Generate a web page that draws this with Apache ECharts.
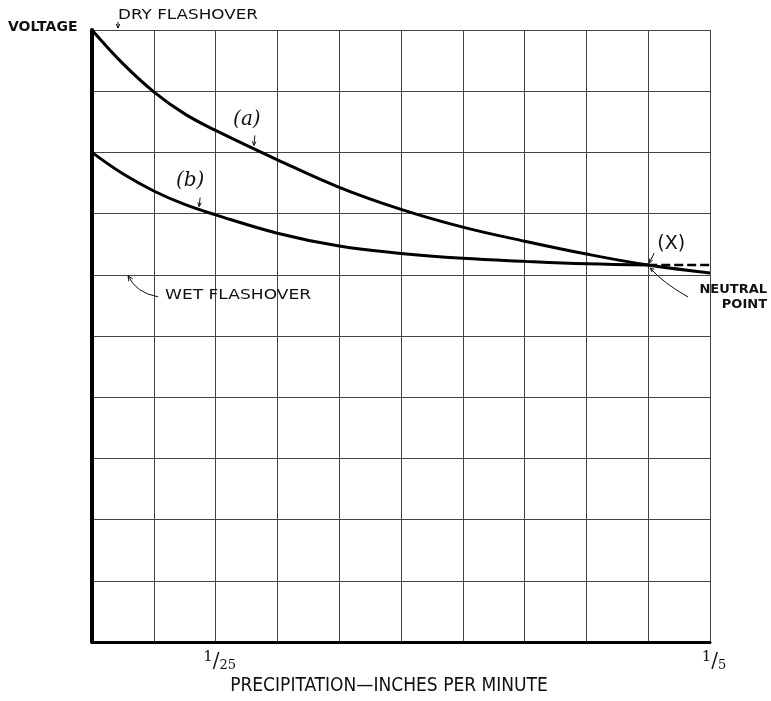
<!DOCTYPE html>
<html>
<head>
<meta charset="utf-8">
<script src="https://cdn.jsdelivr.net/npm/echarts@6/dist/echarts.min.js"></script>
<style>
html,body{margin:0;padding:0;background:#fff;overflow:hidden;}
#c{width:771px;height:701px;}
</style>
</head>
<body>
<div id="c"></div>
<script>
// Precipitation (inches per minute)
const precipA = [0, 0.01, 0.02, 0.03, 0.04, 0.06, 0.08, 0.10, 0.12, 0.14, 0.16, 0.18, 0.20];
const voltageA = [10, 9.45, 8.99, 8.63, 8.36, 7.88, 7.43, 7.07, 6.78, 6.55, 6.34, 6.16, 6.03];
const precipB = [0, 0.01, 0.02, 0.03, 0.04, 0.06, 0.08, 0.10, 0.12, 0.14, 0.16, 0.18];
const voltageB = [8.0, 7.65, 7.37, 7.15, 6.98, 6.68, 6.47, 6.35, 6.27, 6.22, 6.18, 6.16];
const precipBDash = [0.18, 0.20];
const voltageBDash = [6.16, 6.16];
const tickLabels = {0.04: ['1', '25'], 0.2: ['1', '5']};
const neutralPoint = [0.18, 6.16];
const wetFlashover = 6.0;

const zip = (xs, ys) => xs.map((x, i) => [x, ys[i]]);

const chart = echarts.init(document.getElementById('c'), null, {renderer: 'canvas', width: 771, height: 701});
const sans = "'DejaVu Sans', sans-serif";
const serif = "'DejaVu Serif', 'Liberation Serif', serif";

chart.setOption({
  animation: false,
  backgroundColor: '#fff',
  grid: {left: 92, width: 618, top: 30, height: 617, containLabel: false},
  xAxis: {
    type: 'value', min: 0, max: 0.2, interval: 0.02,
    axisLine: {show: true, lineStyle: {color: '#000', width: 3}},
    axisTick: {show: false},
    splitLine: {show: true, lineStyle: {color: '#444', width: 1}},
    axisLabel: {
      margin: 8,
      padding: [0, 0, 0, 8],
      formatter: function (v) {
        for (const k in tickLabels) {
          if (Math.abs(v - Number(k)) < 1e-9) {
            return '{n|' + tickLabels[k][0] + '}{s|/}{d|' + tickLabels[k][1] + '}';
          }
        }
        return '';
      },
      rich: {
        n: {fontFamily: serif, fontSize: 15, color: '#111', padding: [0, 0, 8, 0]},
        s: {fontFamily: serif, fontSize: 20, color: '#111'},
        d: {fontFamily: serif, fontSize: 13, color: '#111', padding: [8, 0, 0, 0]}
      }
    },
    name: 'PRECIPITATION—INCHES PER MINUTE',
    nameLocation: 'middle',
    nameGap: 29,
    nameTextStyle: {fontFamily: "'Liberation Sans Narrow', 'DejaVu Sans Condensed', sans-serif", fontSize: 19, color: '#111',
                    padding: [0, 24, 0, 0]}
  },
  yAxis: {
    type: 'value', min: 0, max: 10, interval: 1,
    axisLine: {show: true, lineStyle: {color: '#000', width: 4}},
    axisTick: {show: false},
    axisLabel: {show: false},
    splitLine: {show: true, lineStyle: {color: '#444', width: 1}}
  },
  series: [
    {type: 'line', data: zip(precipA, voltageA), smooth: 0.4, symbol: 'none',
     lineStyle: {color: '#000', width: 3}},
    {type: 'line', data: zip(precipB, voltageB), smooth: 0.4, symbol: 'none',
     lineStyle: {color: '#000', width: 3}},
    {type: 'line', data: zip(precipBDash, voltageBDash), symbol: 'none',
     lineStyle: {color: '#000', width: 2.5, type: [9, 4]}}
  ]
});

function px(p) { return chart.convertToPixel({gridIndex: 0}, p); }

const np = px(neutralPoint);
const wet = px([0.012, wetFlashover]);
const topPt = px([0.0, 10]);
const aPt = px([0.054, 8.0]);
const bPt = px([0.035, 7.05]);

function arrowHead(tip, from, size) {
  const dx = tip[0] - from[0], dy = tip[1] - from[1];
  const L = Math.sqrt(dx * dx + dy * dy);
  const ux = dx / L, uy = dy / L;
  const bx = tip[0] - ux * size, by = tip[1] - uy * size;
  const nx = -uy * size * 0.45, ny = ux * size * 0.45;
  return {type: 'polyline', shape: {points: [[bx + nx, by + ny], tip, [bx - nx, by - ny]]},
          style: {stroke: '#111', lineWidth: 1, fill: null}};
}

const txt = (x, y, text, font, opts) => ({
  type: 'text', x: x, y: y,
  style: Object.assign({text: text, font: font, fill: '#111', textVerticalAlign: 'middle'}, opts || {})
});

const wetTail = [158, wet[1] + 22];
const wetCtrl = [136, wet[1] + 18];
const npTail = [688, np[1] + 32];
const npCtrl = [662, np[1] + 17];

chart.setOption({
  graphic: [
    txt(8, 27, 'VOLTAGE', 'bold 14px ' + sans),
    Object.assign(txt(118, 15, 'DRY FLASHOVER', '14px ' + sans), {scaleX: 1.2}),
    {type: 'line', shape: {x1: topPt[0] + 26, y1: 22, x2: topPt[0] + 26, y2: topPt[1] - 2}, style: {stroke: '#111', lineWidth: 1}},
    arrowHead([topPt[0] + 26, topPt[1] - 2], [topPt[0] + 26, 20], 4),
    txt(aPt[0] - 12, aPt[1] - 33, '(a)', 'italic 20px ' + serif, {textAlign: 'center'}),
    {type: 'line', shape: {x1: aPt[0] - 4, y1: aPt[1] - 17, x2: aPt[0] - 5, y2: aPt[1] - 7}, style: {stroke: '#111', lineWidth: 1}},
    arrowHead([aPt[0] - 5, aPt[1] - 7], [aPt[0] - 4, aPt[1] - 17], 4),
    txt(bPt[0] - 10, bPt[1] - 30, '(b)', 'italic 20px ' + serif, {textAlign: 'center'}),
    {type: 'line', shape: {x1: bPt[0], y1: bPt[1] - 13, x2: bPt[0] - 1, y2: bPt[1] - 4}, style: {stroke: '#111', lineWidth: 1}},
    arrowHead([bPt[0] - 1, bPt[1] - 4], [bPt[0], bPt[1] - 13], 4),
    txt(np[0] + 23, np[1] - 21, '(X)', '19px ' + sans, {textAlign: 'center'}),
    {type: 'line', shape: {x1: np[0] + 6, y1: np[1] - 12, x2: np[0] + 1, y2: np[1] - 2}, style: {stroke: '#111', lineWidth: 1}},
    arrowHead([np[0] + 1, np[1] - 2], [np[0] + 6, np[1] - 12], 4),
    txt(767, np[1] + 25, 'NEUTRAL', 'bold 13px ' + sans, {textAlign: 'right'}),
    txt(767, np[1] + 40, 'POINT', 'bold 13px ' + sans, {textAlign: 'right'}),
    {type: 'bezierCurve', shape: {x1: npTail[0], y1: npTail[1], x2: np[0] + 2, y2: np[1] + 3, cpx1: npCtrl[0], cpy1: npCtrl[1]},
     style: {stroke: '#111', lineWidth: 1, fill: null}},
    arrowHead([np[0] + 2, np[1] + 3], [np[0] + 10, np[1] + 10], 4),
    Object.assign(txt(165, wet[1] + 21, 'WET FLASHOVER', '14px ' + sans), {scaleX: 1.22}),
    {type: 'bezierCurve', shape: {x1: wetTail[0], y1: wetTail[1], x2: wet[0] - 1, y2: wet[1] + 1, cpx1: wetCtrl[0], cpy1: wetCtrl[1]},
     style: {stroke: '#111', lineWidth: 1, fill: null}},
    arrowHead([wet[0] - 1, wet[1] + 1], [wet[0] + 4, wet[1] + 9], 5)
  ]
});
</script>
</body>
</html>
